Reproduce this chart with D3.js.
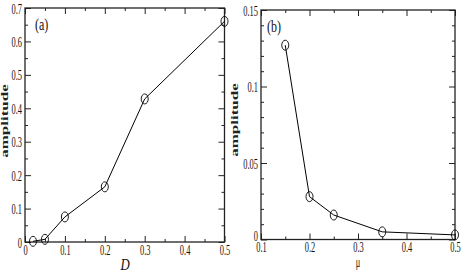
<!DOCTYPE html>
<html><head><meta charset="utf-8">
<script src="https://cdn.jsdelivr.net/npm/d3@7"></script>
<style>body{margin:0;background:#fff}svg{display:block}</style>
</head><body>
<svg id="c" width="463" height="273"></svg>
<script>
const dA = [0.02, 0.05, 0.1, 0.2, 0.3, 0.5];
const ampA = [0.002, 0.008, 0.075, 0.165, 0.428, 0.66];
const muB = [0.15, 0.2, 0.25, 0.35, 0.5];
const ampB = [0.127, 0.028, 0.016, 0.005, 0.003];
const xTicksA = [0, 0.1, 0.2, 0.3, 0.4, 0.5];
const yTicksA = [0, 0.1, 0.2, 0.3, 0.4, 0.5, 0.6, 0.7];
const xTicksB = [0.1, 0.2, 0.3, 0.4, 0.5];
const yTicksB = [0, 0.05, 0.1, 0.15];
const xMinorA = [0.05, 0.15, 0.25, 0.35, 0.45];
const yMinorA = [0.05, 0.15, 0.25, 0.35, 0.45, 0.55, 0.65];
const xMinorB = [0.15, 0.25, 0.35, 0.45];
const yMinorB = [0.01,0.02,0.03,0.04,0.06,0.07,0.08,0.09,0.11,0.12,0.13,0.14];

const svg = d3.select("#c");
const SX = 0.6;
const fmt = d => d === 0 ? "0" : String(+d.toFixed(3));

function panel(o) {
  const x = d3.scaleLinear().domain(o.xd).range(o.xr);
  const y = d3.scaleLinear().domain(o.yd).range(o.yr);
  const g = svg.append("g");
  const [x0, x1] = o.xr, [y0, y1] = o.yr;
  const mk = (axis, tv, size, lab) => axis.tickValues(tv).tickSizeInner(-size).tickSizeOuter(0)
      .tickPadding(3).tickFormat(lab ? fmt : "");
  const draw = (axis, tf) => {
    const a = g.append("g").attr("transform", tf).call(axis);
    a.select(".domain").remove();
    a.selectAll("line").attr("stroke", "#222").attr("stroke-width", 1);
    return a;
  };
  const bot = draw(mk(d3.axisBottom(x), o.xt, 6, true), `translate(0,${y0})`);
  draw(mk(d3.axisBottom(x), o.xm, 3, false), `translate(0,${y0})`);
  draw(mk(d3.axisTop(x), o.xt, 6, false), `translate(0,${y1})`);
  draw(mk(d3.axisTop(x), o.xm, 3, false), `translate(0,${y1})`);
  const lft = draw(mk(d3.axisLeft(y), o.yt, 6, true), `translate(${x0},0)`);
  draw(mk(d3.axisLeft(y), o.ym, 3, false), `translate(${x0},0)`);
  draw(mk(d3.axisRight(y), o.yt, 6, false), `translate(${x1},0)`);
  draw(mk(d3.axisRight(y), o.ym, 3, false), `translate(${x1},0)`);
  [bot, lft].forEach(a => a.selectAll("text")
    .attr("font-family", "Liberation Serif").attr("font-size", 14).attr("fill", "#111"));
  bot.selectAll("text").attr("transform", `scale(${SX},1)`);
  lft.selectAll("text").attr("x", -3 / SX).attr("dy", "0.36em").attr("transform", `scale(${SX},1)`);
  lft.selectAll("text").filter(d => d === 0).attr("dy", o.zeroDy);
  g.append("rect").attr("x", x0).attr("y", y1).attr("width", x1 - x0).attr("height", y0 - y1)
    .attr("fill", "none").attr("stroke", "#222").attr("stroke-width", 1.3);
  const pts = o.xs.map((v, i) => [v, o.ys[i]]);
  g.append("path").datum(pts)
    .attr("d", d3.line().x(d => x(d[0])).y(d => y(d[1])))
    .attr("fill", "none").attr("stroke", "#000").attr("stroke-width", 1);
  g.selectAll("ellipse.m").data(pts).enter().append("ellipse")
    .attr("cx", d => x(d[0])).attr("cy", d => y(d[1])).attr("rx", 3.5).attr("ry", 5)
    .attr("fill", "none").attr("stroke", "#000").attr("stroke-width", 0.9);
  g.append("text").attr("transform", `translate(${o.pl[0]},${o.pl[1]}) scale(0.75,1)`)
    .attr("font-family", "Liberation Serif").attr("font-size", 16).attr("fill", "#111").text(o.panel);
  g.append("text").attr("transform", `translate(${o.yl[0]},${o.yl[1]}) scale(${SX},1) rotate(-90)`)
    .attr("text-anchor", "middle").attr("font-family", "Liberation Serif").attr("font-weight", "bold")
    .attr("font-size", 17).attr("fill", "#222").text("amplitude");
  g.append("text").attr("transform", `translate(${o.xl[0]},${o.xl[1]}) scale(${o.xlsx},1)`)
    .attr("text-anchor", "middle").attr("font-family", "Liberation Serif").attr("font-style", o.xlit ? "italic" : "normal")
    .attr("font-size", o.xlfs).attr("fill", "#111").text(o.xlab);
}

panel({xd: [0, 0.5], xr: [25, 224.5], yd: [0, 0.7], yr: [242, 8],
  xt: xTicksA, xm: xMinorA, yt: yTicksA, ym: yMinorA, xs: dA, ys: ampA, zeroDy: "0.36em",
  panel: "(a)", pl: [35, 30], yl: [8, 121], xl: [125, 270], xlab: "D", xlit: true, xlsx: 0.8, xlfs: 16});
panel({xd: [0.1, 0.5], xr: [261, 455], yd: [0, 0.15], yr: [239.5, 10],
  xt: xTicksB, xm: xMinorB, yt: yTicksB, ym: yMinorB, xs: muB, ys: ampB, zeroDy: "0.05em",
  panel: "(b)", pl: [267, 32], yl: [238, 120], xl: [358, 267], xlab: "μ", xlit: false, xlsx: 0.6, xlfs: 14});
</script>
</body></html>
